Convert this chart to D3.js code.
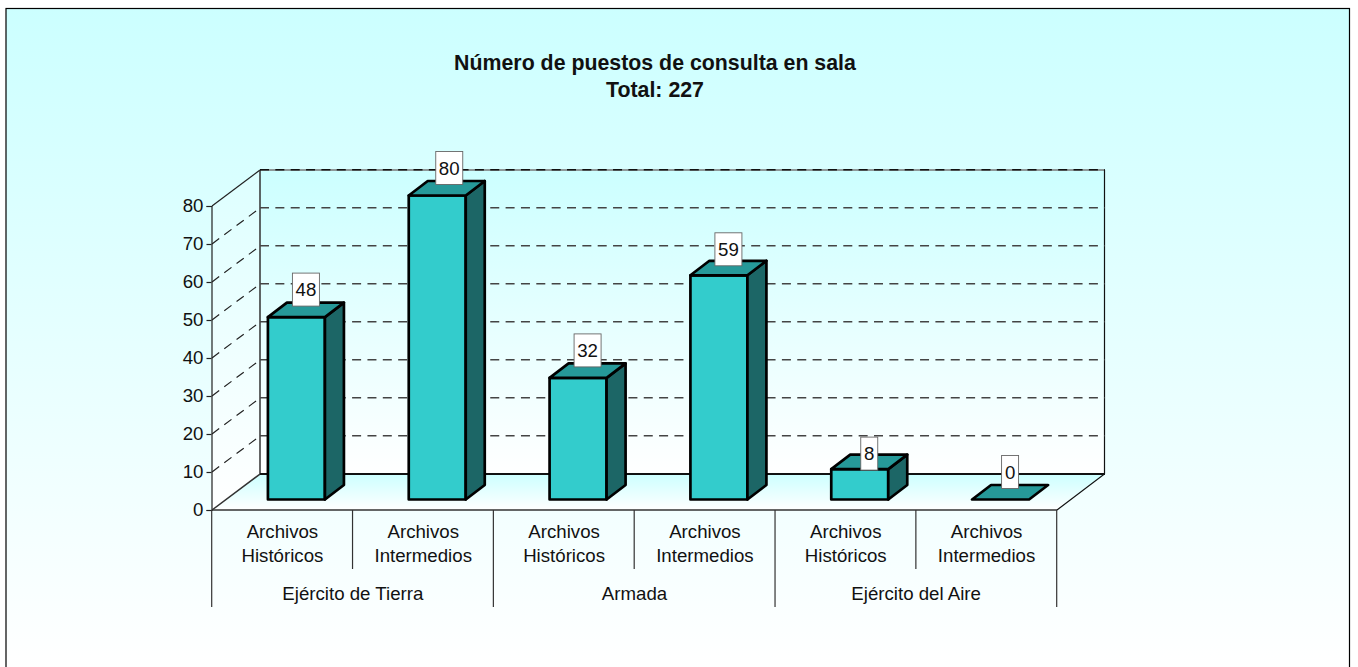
<!DOCTYPE html>
<html><head><meta charset="utf-8">
<script src="https://cdn.jsdelivr.net/npm/d3@7/dist/d3.min.js"></script>
<style>html,body{margin:0;padding:0;background:#fff;overflow:hidden}svg{display:block}text{font-family:"Liberation Sans",Arial,sans-serif;fill:#111}</style>
</head><body><svg id="c" width="1358" height="667"></svg>
<script>
const titleLines = ["Número de puestos de consulta en sala", "Total: 227"];
const groups = ["Ejército de Tierra", "Armada", "Ejército del Aire"];
const categories = ["Archivos Históricos", "Archivos Intermedios", "Archivos Históricos", "Archivos Intermedios", "Archivos Históricos", "Archivos Intermedios"];
const values = [48, 80, 32, 59, 8, 0];
const yTicks = [0, 10, 20, 30, 40, 50, 60, 70, 80];

const svg = d3.select("#c");
const L = 212, R = 1057, Y0 = 510, Y80 = 206, DX = 48, DY = 36;
const FS = 18.67;
const barW = 57, barDX = 19, barDY = 14.5, barOffX = 14, barOffY = 10.5;
const labelNudgeX = [0, 2.5, 0, 0, 0, 0];
const labelLift = [27.5, 27.5, 27.5, 26, 15.5, 27.5];
const x = d3.scaleBand().domain(d3.range(categories.length)).range([L, R]);
const y = d3.scaleLinear().domain([0, 80]).range([Y0, Y80]);

const defs = svg.append("defs");
function grad(id, stops) {
  const g = defs.append("linearGradient").attr("id", id).attr("x1", 0).attr("y1", 0).attr("x2", 0).attr("y2", 1);
  stops.forEach(s => g.append("stop").attr("offset", s[0]).attr("stop-color", s[1]));
}
grad("gFrame", [[0, "#CCFFFF"], [1, "#FFFFFF"]]);
grad("gFloor", [[0, "#CCFFFF"], [1, "#FFFFFF"]]);
grad("gWall", [[0, "#CCFFFF"], [1, "#FFFFFF"]]);
grad("gSide", [[0, "#DDFFFF"], [1, "#FFFFFF"]]);

// frame
svg.append("rect").attr("x", 6).attr("y", 8.5).attr("width", 1343.5).attr("height", 660)
  .attr("fill", "url(#gFrame)").attr("stroke", "#000").attr("stroke-width", 1.2);

// walls
const ptsStr = a => a.map(p => p.join(",")).join(" ");
svg.append("polygon").attr("points", ptsStr([[L + DX, y(80) - DY], [R + DX, y(80) - DY], [R + DX, Y0 - DY], [L + DX, Y0 - DY]]))
  .attr("fill", "url(#gWall)");
svg.append("polygon").attr("points", ptsStr([[L, y(80)], [L + DX, y(80) - DY], [L + DX, Y0 - DY], [L, Y0]]))
  .attr("fill", "url(#gSide)");
svg.append("polygon").attr("points", ptsStr([[L, Y0], [L + DX, Y0 - DY], [R + DX, Y0 - DY], [R, Y0]]))
  .attr("fill", "url(#gFloor)");

// wall edges
const edges = svg.append("g").attr("fill", "none");
edges.append("path").attr("stroke", "#777").attr("stroke-width", 1.5).attr("d", `M${L + DX},${y(80) - DY}H${R + DX}`);
edges.append("path").attr("stroke", "#222").attr("stroke-width", 1.2).attr("d", `M${L},${y(80)}L${L + DX},${y(80) - DY}`);
edges.append("path").attr("stroke", "#333").attr("stroke-width", 1.5).attr("d", `M${L + DX},${y(80) - DY}V${Y0 - DY}L${L},${Y0}`);
edges.append("path").attr("stroke", "#111").attr("stroke-width", 1.2).attr("d", `M${R + DX - 0.5},${y(80) - DY}V${Y0 - DY}L${R},${Y0}`);

// gridlines
const gridG = svg.append("g").attr("fill", "none").attr("stroke-dasharray", "9 6.35");
yTicks.filter(t => t > 0).forEach(t => {
  const yy = y(t);
  gridG.append("line").attr("x1", L + DX).attr("x2", R + DX).attr("y1", yy - DY - 0.3).attr("y2", yy - DY - 0.3)
    .attr("stroke", t === 80 ? "#111" : "#444").attr("stroke-width", 1.5);
  if (t < 80) gridG.append("line").attr("x1", L).attr("x2", L + DX).attr("y1", yy).attr("y2", yy - DY)
    .attr("stroke", "#222").attr("stroke-width", 1.2);
});

edges.append("path").attr("stroke", "#111").attr("stroke-width", 1.8).attr("d", `M${L + DX},${Y0 - DY}H${R + DX}`);

// bars
const bars = svg.append("g").attr("stroke", "#000").attr("stroke-width", 2.7).attr("stroke-linejoin", "round");
const cx = i => x(i) + x.bandwidth() / 2 + barOffX;
values.forEach((v, i) => {
  const x0 = cx(i) - barW / 2, x1 = x0 + barW, yb = y(0) - barOffY, yt = y(v) - barOffY;
  const g = bars.append("g");
  if (v > 0) {
    g.append("polygon").attr("fill", "#33CCCC").attr("points", ptsStr([[x0, yt], [x1, yt], [x1, yb], [x0, yb]]));
    g.append("polygon").attr("fill", "#1C6666").attr("points", ptsStr([[x1, yt], [x1 + barDX, yt - barDY], [x1 + barDX, yb - barDY], [x1, yb]]));
  }
  g.append("polygon").attr("fill", "#269999").attr("points", ptsStr([[x0, yt], [x1, yt], [x1 + barDX, yt - barDY], [x0 + barDX, yt - barDY]]));
});

// axis
const axis = d3.axisLeft(y).tickValues(yTicks).tickSize(5).tickPadding(3);
const ax = svg.append("g").attr("transform", `translate(${L - 0.5},0)`).call(axis);
ax.selectAll("text").attr("font-size", FS).style("font-family", '"Liberation Sans",Arial,sans-serif').style("fill", "#111");
ax.selectAll("line,path").attr("stroke", "#222").attr("stroke-width", 1.2);

// x axis baseline & separators
const sep = svg.append("g").attr("stroke", "#333").attr("stroke-width", 1.2);
sep.append("line").attr("x1", L).attr("x2", R).attr("y1", Y0).attr("y2", Y0).attr("stroke-width", 1.4);
d3.range(categories.length + 1).forEach(i => {
  const xx = i < categories.length ? x(i) : R;
  sep.append("line").attr("x1", xx - 0.3).attr("x2", xx - 0.3).attr("y1", Y0).attr("y2", i % 2 === 0 ? 607 : 569);
});

// category labels
categories.forEach((c, i) => {
  const t = svg.append("text").attr("text-anchor", "middle").attr("font-size", FS);
  c.split(" ").forEach((w, k) => t.append("tspan").attr("x", x(i) + x.bandwidth() / 2).attr("y", 538 + k * 23.7).text(w));
});
groups.forEach((g, i) => {
  svg.append("text").attr("text-anchor", "middle").attr("font-size", FS)
    .attr("x", x(i * 2) + x.bandwidth()).attr("y", 600).text(g);
});

// data labels
values.forEach((v, i) => {
  const s = String(v), w = s.length > 1 ? 27 : 17, h = 33;
  const bx = cx(i) + barDX / 2 + labelNudgeX[i], by = y(v) - barOffY - labelLift[i];
  svg.append("rect").attr("x", bx - w / 2).attr("y", by - h / 2).attr("width", w).attr("height", h)
    .attr("fill", "#fff").attr("stroke", "#666").attr("stroke-width", 0.9);
  svg.append("text").attr("text-anchor", "middle").attr("font-size", FS).attr("x", bx).attr("y", by + 6.5).text(s);
});

// title
titleLines.forEach((tl, k) => {
  svg.append("text").attr("text-anchor", "middle").attr("font-size", 21.33).attr("font-weight", "bold")
    .attr("x", 655).attr("y", 70 + k * 27).text(tl);
});
</script></body></html>
